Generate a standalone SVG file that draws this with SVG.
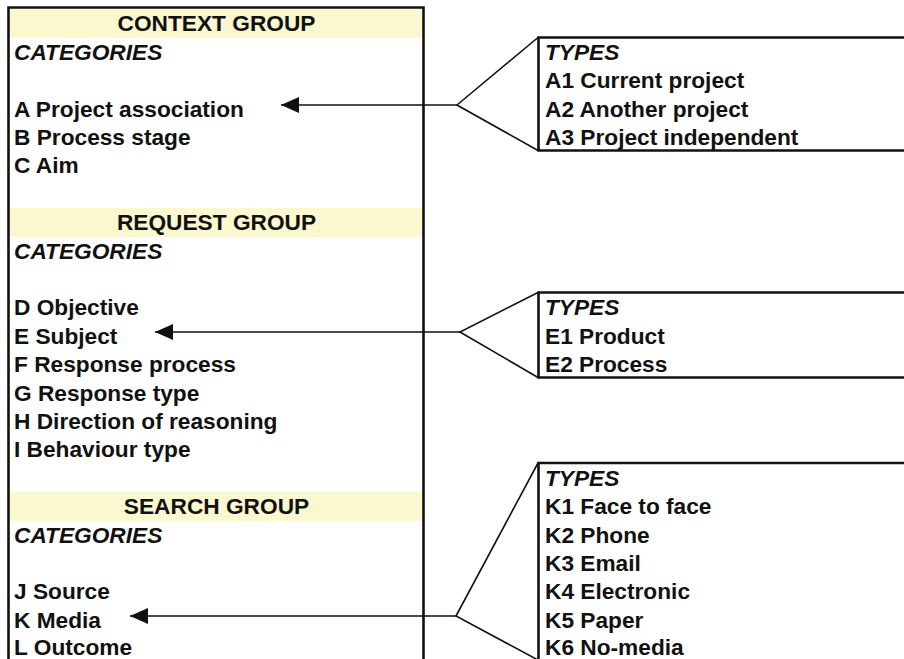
<svg xmlns="http://www.w3.org/2000/svg" width="904" height="659" viewBox="0 0 904 659">
  <style>
    .t { font-family: "Liberation Sans", Arial, sans-serif; font-size: 22.7px; font-weight: bold; fill: #111; }
    .i { font-style: italic; }
    .h { text-anchor: middle; }
    .frame { fill: none; stroke: #111; stroke-width: 2.6; }
    .band { fill: #FBF7CE; }
    .conn { fill: none; stroke: #111; stroke-width: 1.6; }
  </style>
  <defs>
    <marker id="arrow" viewBox="0 0 18 16" refX="18" refY="8" markerWidth="18" markerHeight="16" markerUnits="userSpaceOnUse" orient="auto">
      <path d="M0,0 L18,8 L0,16 Z" fill="#111"/>
    </marker>
  </defs>
  <rect width="904" height="659" fill="#fff"/>

  <!-- Category column -->
  <g id="categories">
    <rect class="band" x="10" y="9" width="412" height="28.5"/>
    <rect class="band" x="10" y="208" width="412" height="29"/>
    <rect class="band" x="10" y="491.5" width="412" height="29.5"/>
    <path class="frame" d="M8.5,670 V7.5 H423.5 V670"/>

    <text class="t h" x="216.5" y="31">CONTEXT GROUP</text>
    <text class="t i" x="14" y="59.7">CATEGORIES</text>
    <text class="t" x="14" y="116.5">A Project association</text>
    <text class="t" x="14" y="144.9">B Process stage</text>
    <text class="t" x="14" y="173.3">C Aim</text>

    <text class="t h" x="216.5" y="230">REQUEST GROUP</text>
    <text class="t i" x="14" y="258.5">CATEGORIES</text>
    <text class="t" x="14" y="315.3">D Objective</text>
    <text class="t" x="14" y="343.7">E Subject</text>
    <text class="t" x="14" y="372.1">F Response process</text>
    <text class="t" x="14" y="400.5">G Response type</text>
    <text class="t" x="14" y="428.9">H Direction of reasoning</text>
    <text class="t" x="14" y="457.3">I Behaviour type</text>

    <text class="t h" x="216.5" y="514">SEARCH GROUP</text>
    <text class="t i" x="14" y="542.5">CATEGORIES</text>
    <text class="t" x="14" y="599.3">J Source</text>
    <text class="t" x="14" y="627.7">K Media</text>
    <text class="t" x="14" y="655">L Outcome</text>
  </g>

  <!-- Types for A -->
  <g id="types-a">
    <path class="frame" d="M906,37.5 H538.5 V150.5 H906"/>
    <text class="t i" x="545" y="59.7">TYPES</text>
    <text class="t" x="545" y="88.1">A1 Current project</text>
    <text class="t" x="545" y="116.5">A2 Another project</text>
    <text class="t" x="545" y="144.9">A3 Project independent</text>
  </g>

  <!-- Types for E -->
  <g id="types-e">
    <path class="frame" d="M906,292.5 H538.5 V377.5 H906"/>
    <text class="t i" x="545" y="315.3">TYPES</text>
    <text class="t" x="545" y="343.7">E1 Product</text>
    <text class="t" x="545" y="372.1">E2 Process</text>
  </g>

  <!-- Types for K -->
  <g id="types-k">
    <path class="frame" d="M906,463 H538.5 V670"/>
    <text class="t i" x="545" y="485.7">TYPES</text>
    <text class="t" x="545" y="514.1">K1 Face to face</text>
    <text class="t" x="545" y="542.5">K2 Phone</text>
    <text class="t" x="545" y="570.9">K3 Email</text>
    <text class="t" x="545" y="599.3">K4 Electronic</text>
    <text class="t" x="545" y="627.7">K5 Paper</text>
    <text class="t" x="545" y="655">K6 No-media</text>
  </g>

  <!-- Connectors: fan from each types box back to its category -->
  <g id="connectors">
    <path class="conn" d="M538,37.5 L457,105 L538,150.5"/>
    <line class="conn" x1="457" y1="105" x2="281" y2="105" marker-end="url(#arrow)"/>

    <path class="conn" d="M538,292.5 L460,332 L538,377.5"/>
    <line class="conn" x1="460" y1="332" x2="155" y2="332" marker-end="url(#arrow)"/>

    <path class="conn" d="M538,463 L456,616 L538,660"/>
    <line class="conn" x1="456" y1="616" x2="130" y2="616" marker-end="url(#arrow)"/>
  </g>
</svg>
